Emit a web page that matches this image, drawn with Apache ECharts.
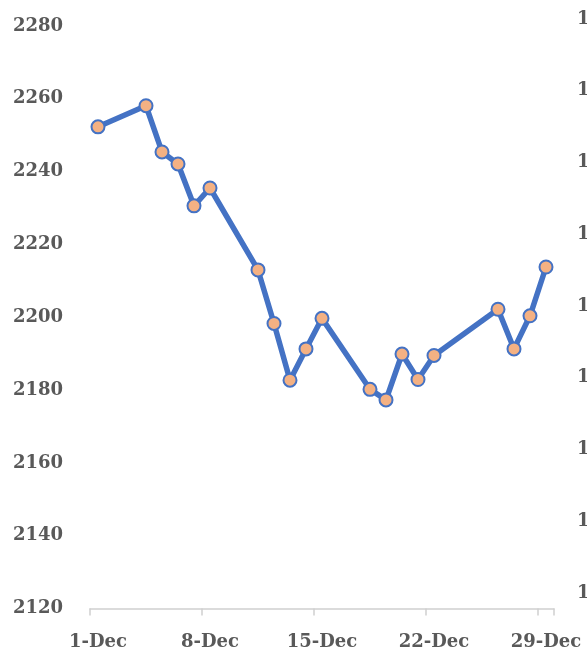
<!DOCTYPE html>
<html>
<head>
<meta charset="utf-8">
<script src="https://cdn.jsdelivr.net/npm/echarts@6/dist/echarts.min.js"></script>
<style>
  html, body { margin: 0; padding: 0; background: #fff; }
  #chart { width: 587px; height: 651px; }
</style>
</head>
<body>
<div id="chart"></div>
<script>
// Calendar days shown on the date axis
const days = [];
for (let d = 1; d <= 29; d++) days.push(d + '-Dec');

// Trading days and closing values
const tradeDates = ['1-Dec', '4-Dec', '5-Dec', '6-Dec', '7-Dec', '8-Dec',
  '11-Dec', '12-Dec', '13-Dec', '14-Dec', '15-Dec',
  '18-Dec', '19-Dec', '20-Dec', '21-Dec', '22-Dec',
  '26-Dec', '27-Dec', '28-Dec', '29-Dec'];
const closeValues = [2252.3, 2258.1, 2245.4, 2242.1, 2230.6, 2235.5,
  2213.0, 2198.3, 2182.7, 2191.3, 2199.7,
  2180.2, 2177.3, 2189.9, 2182.9, 2189.5,
  2202.2, 2191.3, 2200.4, 2213.8];

// Left value axis ticks
const yMin = 2120, yMax = 2280, yStep = 20;
// Secondary (right) axis ticks
const y2Min = 100, y2Max = 180, y2Step = 10;

const textColor = '#595959';
const fontFamily = '"DejaVu Serif", serif';
const plain = v => String(v);

const chart = echarts.init(document.getElementById('chart'), null, { renderer: 'canvas' });
chart.setOption({
  animation: false,
  backgroundColor: '#ffffff',
  grid: [
    { left: 90, right: 33, top: 26, bottom: 42.5, containLabel: false, outerBoundsMode: 'none' },
    { left: 90, right: 33, top: 19, bottom: 58, containLabel: false, outerBoundsMode: 'none' }
  ],
  xAxis: [
    {
      type: 'category',
      gridIndex: 0,
      data: days,
      boundaryGap: true,
      axisLine: { lineStyle: { color: '#d0d0d0', width: 1.5 } },
      axisTick: { show: true, interval: 6, length: 7, inside: false, lineStyle: { color: '#d0d0d0', width: 1.5 } },
      axisLabel: {
        interval: 6, margin: 25, color: textColor, hideOverlap: false,
        fontFamily: fontFamily, fontWeight: 'bold', fontSize: 18
      },
      splitLine: { show: false }
    },
    { type: 'category', gridIndex: 1, data: days, show: false }
  ],
  yAxis: [
    {
      type: 'value',
      gridIndex: 0,
      min: yMin, max: yMax, interval: yStep,
      axisLine: { show: false },
      axisTick: { show: false },
      splitLine: { show: false },
      axisLabel: {
        margin: 27, color: textColor, formatter: plain,
        fontFamily: fontFamily, fontWeight: 'bold', fontSize: 18
      }
    },
    {
      type: 'value',
      gridIndex: 1,
      position: 'right',
      min: y2Min, max: y2Max, interval: y2Step,
      axisLine: { show: false },
      axisTick: { show: false },
      splitLine: { show: false },
      axisLabel: {
        margin: 23, color: textColor, formatter: plain,
        fontFamily: fontFamily, fontWeight: 'bold', fontSize: 18
      }
    }
  ],
  series: [
    {
      type: 'line',
      xAxisIndex: 0,
      yAxisIndex: 0,
      data: tradeDates.map((d, i) => [d, closeValues[i]]),
      showAllSymbol: true,
      lineStyle: { color: '#4472C4', width: 5.5 },
      symbol: 'circle',
      symbolSize: 13,
      itemStyle: { color: '#F4B183', borderColor: '#4472C4', borderWidth: 2 },
      emphasis: { disabled: true }
    }
  ]
});
</script>
</body>
</html>
